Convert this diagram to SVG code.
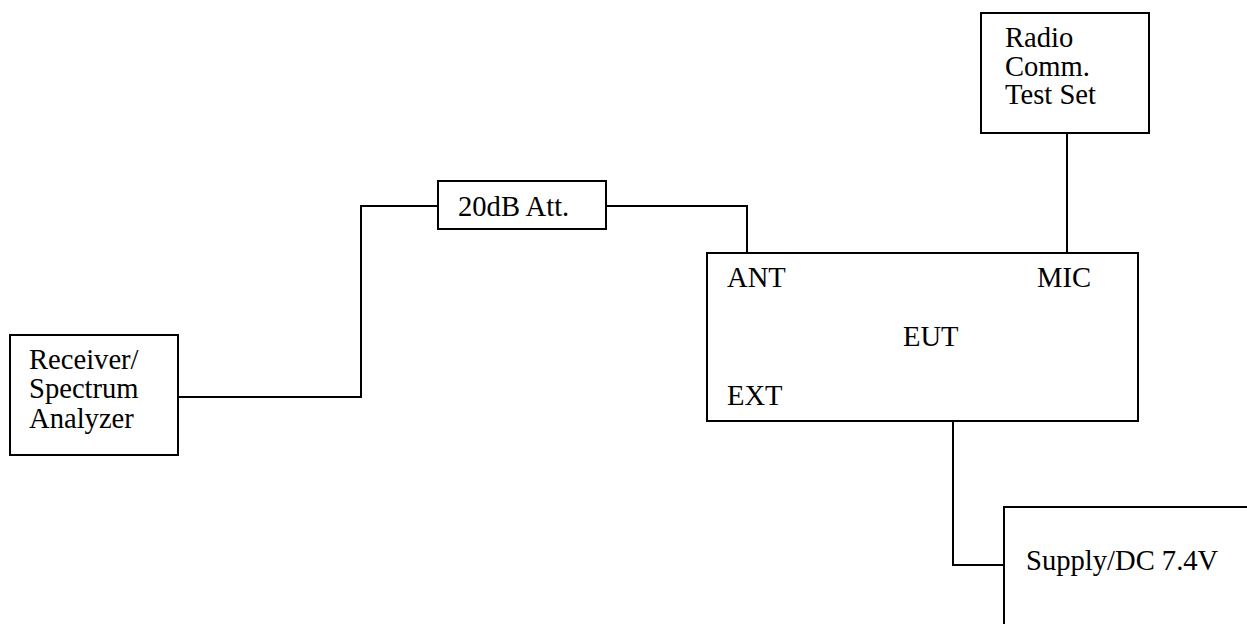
<svg xmlns="http://www.w3.org/2000/svg" width="1247" height="624" viewBox="0 0 1247 624">
<style>
.box{fill:#fff;stroke:#000;stroke-width:2}
.wire{fill:none;stroke:#000;stroke-width:2}
text{font-family:"Liberation Serif","Times New Roman",serif;font-size:28.6px;fill:#000}
</style>
<rect width="1247" height="624" fill="#fff"/>
<g id="connectors">
<polyline class="wire" points="178,397 361,397 361,206 438,206"/>
<polyline class="wire" points="606,206 747,206 747,253"/>
<line class="wire" x1="1067" y1="133" x2="1067" y2="253"/>
<polyline class="wire" points="953,421 953,565 1004,565"/>
</g>
<g id="receiver">
<rect class="box" x="10" y="335" width="168" height="120"/>
<text x="29" y="369">Receiver/</text>
<text x="29" y="398">Spectrum</text>
<text x="29" y="428">Analyzer</text>
</g>
<g id="attenuator">
<rect class="box" x="438" y="181" width="168" height="48"/>
<text x="458" y="216">20dB Att.</text>
</g>
<g id="eut">
<rect class="box" x="707" y="253" width="431" height="168"/>
<text x="727" y="287">ANT</text>
<text x="1037" y="287">MIC</text>
<text x="903" y="346">EUT</text>
<text x="727" y="405">EXT</text>
</g>
<g id="radio">
<rect class="box" x="981" y="13" width="168" height="120"/>
<text x="1005" y="47">Radio</text>
<text x="1005" y="76">Comm.</text>
<text x="1005" y="104">Test Set</text>
</g>
<g id="supply">
<rect class="box" x="1004" y="507" width="260" height="140"/>
<text x="1026" y="570">Supply/DC 7.4V</text>
</g>
</svg>
